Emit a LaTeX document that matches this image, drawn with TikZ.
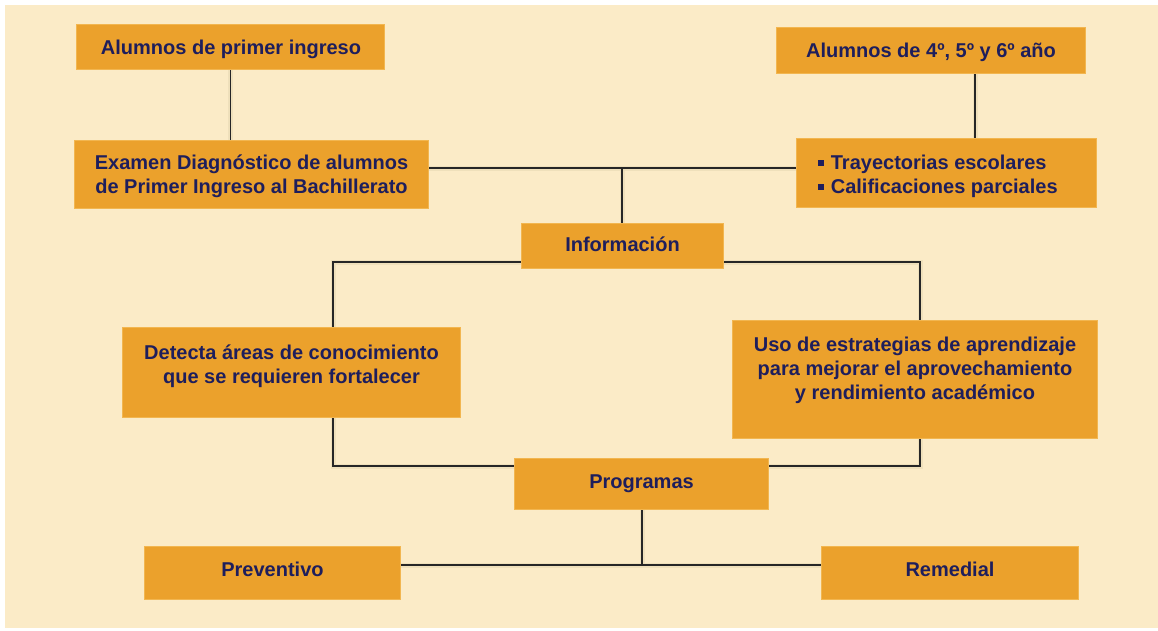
\documentclass[tikz,border=0pt]{standalone}
\usepackage{fontspec}
\setmainfont{Liberation Sans}
\definecolor{cream}{HTML}{FBEBC7}
\definecolor{boxorange}{HTML}{EBA12C}
\definecolor{boxedge}{HTML}{F2B650}
\definecolor{navy}{HTML}{1E1E5C}
\definecolor{shade}{HTML}{EADCB6}
\tikzset{
  box/.style={fill=boxorange, draw=boxedge, line width=0.8pt, inner sep=0pt},
  txt/.style={font=\fontsize{20}{24}\selectfont\bfseries, text=navy, align=center, inner sep=0pt},
  conn/.style={draw=black!85, line width=1.5pt},
  shadowline/.style={draw=shade, line width=5pt, opacity=0.7}
}
\newcommand{\sqbullet}{\raisebox{3.5pt}{\rule{5.5pt}{5.5pt}}\hspace{7pt}}
\begin{document}
\begin{tikzpicture}[x=1pt,y=-1pt]
\useasboundingbox (0,0) rectangle (1158,630);
\fill[white] (0,0) rectangle (1158,630);
\fill[cream] (5,5) rectangle (1158,628);

% boxes
\node[box, minimum width=307pt, minimum height=44pt] (b1) at (230.5,47) {};
\node[box, minimum width=353pt, minimum height=67pt] (b2) at (251.5,174.5) {};
\node[box, minimum width=308pt, minimum height=45pt] (b3) at (931,50.5) {};
\node[box, minimum width=299pt, minimum height=68pt] (b4) at (946.5,173) {};
\node[box, minimum width=201pt, minimum height=44pt] (b5) at (622.5,246) {};
\node[box, minimum width=337pt, minimum height=89pt] (b6) at (291.5,372.5) {};
\node[box, minimum width=364pt, minimum height=117pt] (b7) at (915,379.5) {};
\node[box, minimum width=253pt, minimum height=50pt] (b8) at (641.5,484) {};
\node[box, minimum width=255pt, minimum height=52pt] (b9) at (272.5,573) {};
\node[box, minimum width=256pt, minimum height=52pt] (b10) at (950,573) {};

% junction coordinates
\coordinate (j1) at (622,168);
\coordinate (l1) at (333,262);
\coordinate (r1) at (920,262);
\coordinate (l2) at (333,466);
\coordinate (r2) at (920,466);
\coordinate (j2) at (642,565);
\coordinate (c3) at (975,73);

% connector shadows
\begin{scope}[shift={(3,4)}]
\draw[shadowline] (b1.south) -- (b1.south |- b2.north);
\draw[shadowline] (c3) -- (c3 |- b4.north);
\draw[shadowline] (b2.east |- j1) -- (b4.west |- j1);
\draw[shadowline] (j1) -- (j1 |- b5.north);
\draw[shadowline] (b5.west |- l1) -- (l1) -- (l1 |- b6.north);
\draw[shadowline] (b5.east |- r1) -- (r1) -- (r1 |- b7.north);
\draw[shadowline] (l1 |- b6.south) -- (l2) -- (b8.west |- l2);
\draw[shadowline] (r1 |- b7.south) -- (r2) -- (b8.east |- r2);
\draw[shadowline] (b9.east |- j2) -- (b10.west |- j2);
\draw[shadowline] (j2 |- b8.south) -- (j2);
\end{scope}

% connectors
\draw[conn] (b1.south) -- (b1.south |- b2.north);
\draw[conn] (c3) -- (c3 |- b4.north);
\draw[conn] (b2.east |- j1) -- (b4.west |- j1);
\draw[conn] (j1) -- (j1 |- b5.north);
\draw[conn] (b5.west |- l1) -- (l1) -- (l1 |- b6.north);
\draw[conn] (b5.east |- r1) -- (r1) -- (r1 |- b7.north);
\draw[conn] (l1 |- b6.south) -- (l2) -- (b8.west |- l2);
\draw[conn] (r1 |- b7.south) -- (r2) -- (b8.east |- r2);
\draw[conn] (b9.east |- j2) -- (b10.west |- j2);
\draw[conn] (j2 |- b8.south) -- (j2);

% redraw boxes over lines
\foreach \b in {b1,b2,b3,b4,b5,b6,b7,b8,b9,b10}{
  \fill[boxorange] (\b.north west) rectangle (\b.south east);
  \draw[boxedge, line width=0.8pt] (\b.north west) rectangle (\b.south east);
}

% texts
\node[txt] (t1) at (231,49) {Alumnos de primer ingreso};
\node[txt] (t2) at (251.5,176) {Examen Diagnóstico de alumnos\\de Primer Ingreso al Bachillerato};
\node[txt] (t3) at (931,52) {Alumnos de 4º, 5º y 6º año};
\node[txt, align=left] (t4) at (938,176) {\sqbullet Trayectorias escolares\\\sqbullet Calificaciones parciales};
\node[txt] (t5) at (622.5,244) {Información};
\node[txt] (t6) at (291.5,366) {Detecta áreas de conocimiento\\que se requieren fortalecer};
\node[txt] (t7) at (915,370.5) {Uso de estrategias de aprendizaje\\para mejorar el aprovechamiento\\y rendimiento académico};
\node[txt] (t8) at (641.5,484) {Programas};
\node[txt] (t9) at (272.5,569) {Preventivo};
\node[txt] (t10) at (950,569) {Remedial};
\end{tikzpicture}
\end{document}
